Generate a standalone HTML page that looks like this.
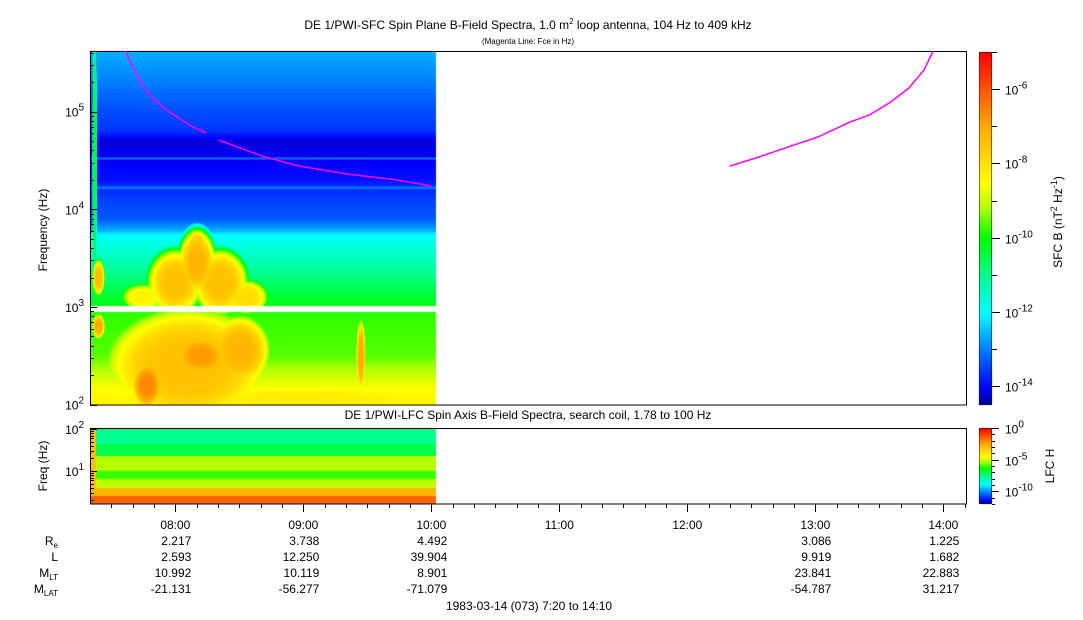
<!DOCTYPE html>
<html><head><meta charset="utf-8">
<style>
body{margin:0;background:#fff;width:1083px;height:620px;overflow:hidden;font-family:"Liberation Sans",sans-serif;}
#root{position:relative;width:1083px;height:620px;}
canvas{position:absolute;left:0;top:0;}
svg{position:absolute;left:0;top:0;}
</style></head>
<body>
<div id="root">
<canvas id="cv" width="1083" height="620"></canvas>
<svg id="sv" width="1083" height="620" font-family="Liberation Sans, sans-serif" font-size="12"></svg>
</div>
<script>
// ---- data ----
const sfcBgLogF = [2.0, 2.15, 2.3, 2.5, 2.95, 3.0, 3.2, 3.5, 3.74, 3.78, 3.9, 4.1, 4.2, 4.22, 4.24, 4.3, 4.45, 4.5, 4.52, 4.54, 4.6, 4.7, 4.8, 5.0, 5.3, 5.62];
const sfcBgPow  = [-8.3,-8.5,-9.0,-9.6,-9.8,-10.1,-10.6,-11.4,-12.0,-12.6,-13.3,-13.5,-13.7,-12.8,-13.7,-13.9,-14.0,-14.1,-13.0,-14.1,-14.1,-14.2,-13.6,-13.4,-13.0,-12.6];
// emissions: time (h), logF, time width, logF width, peak log power
const emisT  = [8.0, 8.17, 8.35, 8.55, 7.75, 7.4, 8.1, 8.2, 7.78, 8.5, 9.0, 9.45, 7.4, 7.37, 8.17];
const emisF  = [3.25, 3.45, 3.25, 3.1, 3.1, 3.3, 2.4, 2.5, 2.2, 2.55, 2.05, 2.5, 2.8, 4.5, 3.65];
const emisDT = [0.18, 0.12, 0.18, 0.15, 0.15, 0.04, 0.55, 0.17, 0.1, 0.2, 1.2, 0.03, 0.04, 0.015, 0.07];
const emisDF = [0.28, 0.28, 0.28, 0.15, 0.12, 0.15, 0.5, 0.17, 0.2, 0.3, 0.15, 0.3, 0.1, 1.3, 0.12];
const emisP  = [-7.4, -7.2, -7.4, -7.9, -8.3, -7.3, -7.4, -6.8, -6.6, -7.2, -8.2, -7.0, -7.0, -10.2, -7.6];
const fceLeftT  = [7.609, 7.679, 7.757, 7.835, 7.953, 8.109, 8.242];
const fceLeftF  = [417000, 267000, 174000, 132000, 99000, 72700, 60000];
const fceMidT   = [8.34, 8.68, 8.95, 9.34, 9.73, 10.0];
const fceMidF   = [51000, 35000, 28000, 23000, 20000, 17300];
const fceRightT = [12.33, 12.56, 12.80, 13.02, 13.27, 13.42, 13.58, 13.73, 13.85, 13.92];
const fceRightF = [27600, 34300, 44000, 55000, 78000, 92000, 123000, 174000, 268000, 417000];
const lfcBandLo = [0.25, 0.4, 0.6, 0.8, 1.0, 1.35, 1.65];
const lfcBandHi = [0.4, 0.6, 0.8, 1.0, 1.35, 1.65, 2.0];
const lfcPow    = [-1.5, -2.8, -5.2, -6.0, -5.3, -7.0, -7.6];
const hourLabels = ["08:00","09:00","10:00","11:00","12:00","13:00","14:00"];
const hourVals = [8,9,10,11,12,13,14];
const reVals  = ["2.217","3.738","4.492","","","3.086","1.225"];
const lVals   = ["2.593","12.250","39.904","","","9.919","1.682"];
const mltVals = ["10.992","10.119","8.901","","","23.841","22.883"];
const mlatVals= ["-21.131","-56.277","-71.079","","","-54.787","31.217"];

// ---- geometry ----
const X0=90, X1=967, T0=7+20/60, PXH=128;
const tx = t => X0 + (t - T0) * PXH;
const xt = x => T0 + (x - X0) / PXH;
const UY0=51, UY1=405;
const uy = lf => 307 - (lf - 3) * 97.7;
const yu = y => 3 + (307 - y) / 97.7;
const LY0=428, LY1=504;
const ly = lf => 429 - (lf - 2) * 42;
const yl = y => 2 + (429 - y) / 42;
const DATA_END = 10 + 2/60;

const stops=[[0,[0,0,140]],[0.05,[0,0,255]],[0.16,[0,128,255]],[0.263,[0,255,255]],[0.37,[0,255,140]],[0.474,[0,255,0]],[0.56,[180,255,0]],[0.63,[255,255,0]],[0.79,[255,170,0]],[1,[255,0,0]]];
function cmap(f){f=Math.max(0,Math.min(1,f));for(let i=1;i<stops.length;i++){if(f<=stops[i][0]){const a=stops[i-1],b=stops[i];const u=(f-a[0])/(b[0]-a[0]);return a[1].map((v,k)=>Math.round(v+(b[1][k]-v)*u));}}return stops[stops.length-1][1];}
function interp(xs,ys,x){if(x<=xs[0])return ys[0];for(let i=1;i<xs.length;i++){if(x<=xs[i]){const u=(x-xs[i-1])/(xs[i]-xs[i-1]);return ys[i-1]+(ys[i]-ys[i-1])*u;}}return ys[ys.length-1];}

const cv=document.getElementById('cv');const ctx=cv.getContext('2d');
const img=ctx.createImageData(1083,620);
function put(x,y,c){const i=(y*1083+x)*4;img.data[i]=c[0];img.data[i+1]=c[1];img.data[i+2]=c[2];img.data[i+3]=255;}
const xEnd=Math.round(tx(DATA_END));
for(let y=UY0;y<UY1;y++){
  if(y>=306&&y<312)continue;
  const lf=yu(y+0.5);
  const bg=interp(sfcBgLogF,sfcBgPow,lf);
  for(let x=X0;x<xEnd;x++){
    const t=xt(x+0.5);let v=bg;
    for(let k=0;k<emisT.length;k++){
      const dt=(t-emisT[k])/emisDT[k], df=(lf-emisF[k])/emisDF[k];
      const r2=dt*dt+df*df;
      const e=emisP[k]-1.2*r2*r2;
      if(e>v)v=e;
    }
    put(x,y,cmap((v+14.5)/9.5));
  }
}
for(let y=LY0;y<LY1;y++){
  const lf=yl(y+0.5);let p=lfcPow[0];
  for(let b=0;b<lfcBandLo.length;b++){if(lf>=lfcBandLo[b]&&lf<lfcBandHi[b])p=lfcPow[b];}
  for(let x=X0;x<xEnd;x++){let v=p;if(x<96)v=Math.max(v,-3);put(x,y,cmap((v+12)/12));}
}
for(let y=52;y<405;y++){const c=cmap((405-y)/353);for(let x=979;x<992;x++)put(x,y,c);}
for(let y=428;y<504;y++){const c=cmap((504-y)/76);for(let x=979;x<992;x++)put(x,y,c);}
ctx.putImageData(img,0,0);

// ---- SVG overlay ----
const NS='http://www.w3.org/2000/svg';const sv=document.getElementById('sv');
function el(tag,attrs,text){const e=document.createElementNS(NS,tag);for(const k in attrs)e.setAttribute(k,attrs[k]);if(text!==undefined)e.textContent=text;sv.appendChild(e);return e;}
function line(x1,y1,x2,y2,name){const e=el('line',{x1,y1,x2,y2,stroke:'#000','stroke-width':1});return e;}
function txt(x,y,s,anchor,name,size){const e=el('text',{x,y,'text-anchor':anchor||'start','font-size':size||12});e.textContent=s;return e;}
function sup(x,y,base,exp,anchor,name){const e=el('text',{x,y,'text-anchor':anchor||'start'});const t1=document.createElementNS(NS,'tspan');t1.textContent=base;const t2=document.createElementNS(NS,'tspan');t2.setAttribute('dy','-6');t2.setAttribute('font-size','10');t2.textContent=exp;e.appendChild(t1);e.appendChild(t2);return e;}

let r=el('rect',{x:90.5,y:51.5,width:876,height:353.5,fill:'none',stroke:'#000'});

r=el('rect',{x:90.5,y:428.5,width:876,height:75.5,fill:'none',stroke:'#000'});

r=el('rect',{x:979.5,y:52.5,width:12,height:352,fill:'none',stroke:'#000','stroke-width':0.5});

r=el('rect',{x:979.5,y:428.5,width:12,height:75,fill:'none',stroke:'#000','stroke-width':0.5});


[[fceLeftT,fceLeftF],[fceMidT,fceMidF],[fceRightT,fceRightF]].forEach((s,i)=>{
  const pts=s[0].map((t,j)=>tx(t).toFixed(1)+','+uy(Math.log10(s[1][j])).toFixed(1)).join(' ');
  const p=el('polyline',{points:pts,fill:'none',stroke:'#ff00ff','stroke-width':1.5,'stroke-linejoin':'round'});
  
});

for(let d=2;d<=5;d++){for(let m=1;m<=9;m++){const lf=d+Math.log10(m);if(lf>5.62)break;const y=Math.round(uy(lf))+0.5;line(90,y,m===1?97:94,y,'sfc-y-tick');}}
[2,3,4,5].forEach(d=>sup(84,uy(d)+5,'10',String(d),'end','sfc-y-tick-label'));
const yt=el('text',{x:0,y:0,transform:'translate(47,230) rotate(-90)','text-anchor':'middle'});yt.textContent='Frequency (Hz)';


for(let d=0;d<=2;d++){for(let m=1;m<=9;m++){const lf=d+Math.log10(m);if(lf<0.25||lf>2)continue;const y=Math.round(ly(lf))+0.5;line(90,y,m===1?97:94,y,'lfc-y-tick');}}
[1,2].forEach(d=>sup(84,ly(d)+5,'10',String(d),'end','lfc-y-tick-label'));
const yt2=el('text',{x:0,y:0,transform:'translate(47,466) rotate(-90)','text-anchor':'middle'});yt2.textContent='Freq (Hz)';


for(let m=10;m<=410;m+=10){const t=T0+m/60;const x=Math.round(tx(t))+0.5;if(x>967)break;const major=Math.abs(t-Math.round(t))<1e-6;line(x,504,x,major?512:508,'time-tick');}
hourVals.forEach((h,i)=>{const x=tx(h);
  txt(x,529,hourLabels[i],'middle','time-label');
  txt(x+16,545,reVals[i],'end','re-value');
  txt(x+16,561,lVals[i],'end','l-value');
  txt(x+16,577,mltVals[i],'end','mlt-value');
  txt(x+16,593,mlatVals[i],'end','mlat-value');
});
let rl=el('text',{x:58,y:545,'text-anchor':'end'});rl.innerHTML='R<tspan font-size="8" dy="3">e</tspan>';
txt(58,561,'L','end','l-row-label');
rl=el('text',{x:58,y:577,'text-anchor':'end'});rl.innerHTML='M<tspan font-size="8" dy="3">LT</tspan>';
rl=el('text',{x:58,y:593,'text-anchor':'end'});rl.innerHTML='M<tspan font-size="8" dy="3">LAT</tspan>';
txt(529,610,'1983-03-14 (073) 7:20 to 14:10','middle','date-range-label');

let tt=el('text',{x:528,y:29,'text-anchor':'middle'});tt.innerHTML='DE 1/PWI-SFC  Spin Plane B-Field Spectra, 1.0 m<tspan font-size="8" dy="-5">2</tspan><tspan dy="5"> loop antenna, 104 Hz to 409 kHz</tspan>';

txt(528,44,'(Magenta Line: Fce in Hz)','middle','sfc-subtitle',8);
txt(528,419,'DE 1/PWI-LFC  Spin Axis B-Field Spectra, search coil, 1.78 to 100 Hz','middle','lfc-title');

for(let v=-14;v<=-5;v++){const y=Math.round(405-(v+14.5)/9.5*353)+0.5;line(992,y,(v%2===0)?1000:997,y,'sfc-colorbar-tick');if(v%2===0)sup(1005,y+5,'10',String(v),'start','sfc-colorbar-label');}
for(let v=-12;v<=0;v++){const y=Math.round(504-(v+12)/12*76)+0.5;line(992,y,(v%5===0)?999:995,y,'lfc-colorbar-tick');if(v%5===0)sup(1005,y+5,'10',String(v),'start','lfc-colorbar-label');}
let ct=el('text',{x:0,y:0,transform:'translate(1062,222) rotate(-90)','text-anchor':'middle'});
ct.innerHTML='SFC B (nT<tspan font-size="9" dy="-5">2</tspan><tspan dy="5"> Hz</tspan><tspan font-size="9" dy="-5">-1</tspan><tspan dy="5">)</tspan>';

ct=el('text',{x:0,y:0,transform:'translate(1054,466) rotate(-90)','text-anchor':'middle'});ct.textContent='LFC H';

</script>
</body></html>
